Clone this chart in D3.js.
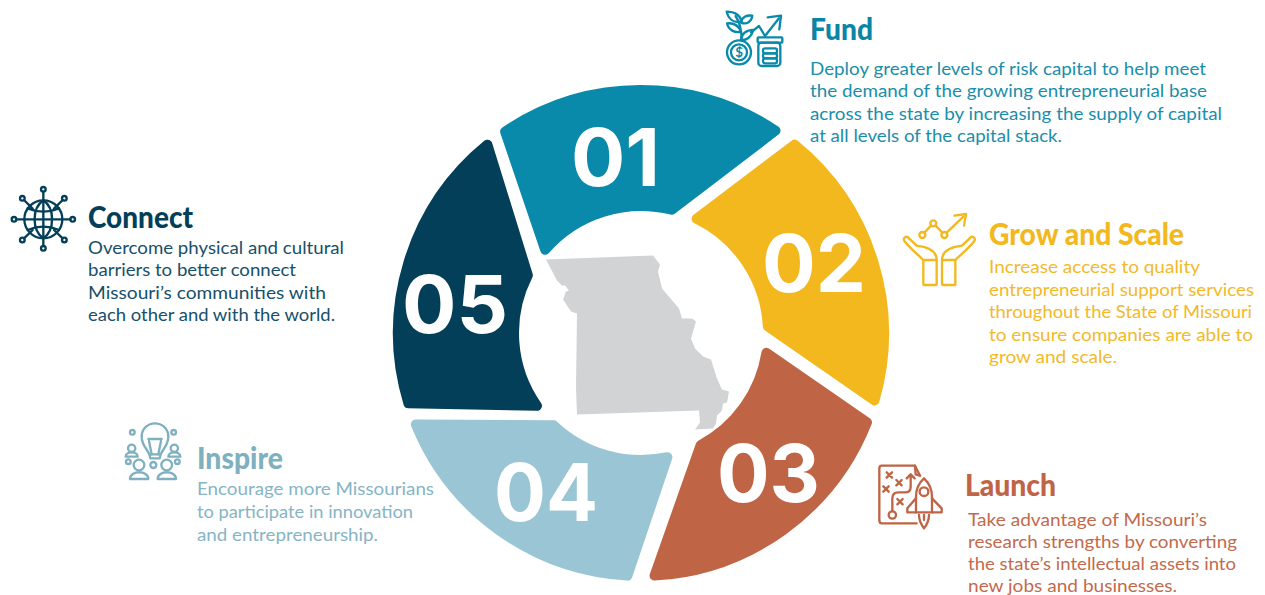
<!DOCTYPE html>
<html>
<head>
<meta charset="utf-8">
<script src="https://cdn.jsdelivr.net/npm/d3@7"></script>
<style>
  html, body { margin: 0; padding: 0; background: #fff; overflow: hidden; }
  text { font-family: Lato, "Open Sans", sans-serif; }
</style>
</head>
<body>
<div id="my_dataviz"></div>
<script>
// five equal parts of the ring
var sliceValues = [1, 1, 1, 1, 1];
var sliceNumbers = ['01', '02', '03', '04', '05'];
var sliceTitles = ['Fund', 'Grow and Scale', 'Launch', 'Inspire', 'Connect'];
var fundLines = ['Deploy greater levels of risk capital to help meet', 'the demand of the growing entrepreneurial base', 'across the state by increasing the supply of capital', 'at all levels of the capital stack.'];
var growLines = ['Increase access to quality', 'entrepreneurial support services', 'throughout the State of Missouri', 'to ensure companies are able to', 'grow and scale.'];
var launchLines = ['Take advantage of Missouri\u2019s', 'research strengths by converting', 'the state\u2019s intellectual assets into', 'new jobs and businesses.'];
var inspireLines = ['Encourage more Missourians', 'to participate in innovation', 'and entrepreneurship.'];
var connectLines = ['Overcome physical and cultural', 'barriers to better connect', 'Missouri\u2019s communities with', 'each other and with the world.'];
var bodyLines = [fundLines, growLines, launchLines, inspireLines, connectLines];
// state outline, in outline units (roughly 0-185 across)
var missouriOutline = [[0,4],[107,0],[114,9],[112,16],[116,33],[133,53],[136,63],[146,63],[150,66],[145,83],[149,93],[157,101],[165,104],[171,123],[176,134],[183,136],[181,147],[177,148],[176,155],[171,160],[170,168],[167,173],[149,174],[154,167],[153,155],[31,159],[30,132],[31,58],[25,56],[17,44],[20,36],[23,35],[19,30],[16,30],[11,25]];

// layout and styling, kept apart from the values above
var width = 1265, height = 595;
var center = [641, 333];
var outerRadius = 248, innerRadius = 122, cornerRadius = 5;
var colors = ['#0a8aaa', '#f2b81e', '#bf6445', '#99c5d5', '#033f58'];
var titleColors = ['#0a86a5', '#f2b81e', '#bf6445', '#7fb0c0', '#033f58'];
var textColors = ['#1a8eab', '#f2b92a', '#c26a4c', '#85b5c5', '#17506a'];
// the sides are not radial: the inner corners are turned against the outer ones (degrees)
var outerStartShift = [2.0, 3.2, 3.6, 3.2, 1.2];
var outerEndShift = [-2.4, -1.9, -3.2, -4.1, -3.2];
var innerStartShift = [-13, -10, -9, -12, -17];
var innerEndShift = [-22, -21, -28, -28.6, -27];
var numberLayout = [[571, 186, 89], [762, 292, 104], [717, 502, 103], [494, 521, 104], [402, 333, 106]];
var titleLayout = [[810, 40, 63], [989, 245, 195], [965, 496, 91], [197, 469, 86], [88, 228, 105]];
var bodyX = [810, 989, 968, 197, 88];
var bodyFirstY = [75, 273, 525.5, 495, 254];
var bodyStep = [22.4, 22.5, 22, 23, 22.4];
var bodyRight = [
  [1206, 1207, 1222, 1062],
  [1200, 1254, 1252, 1253, 1117],
  [1207, 1237, 1236, 1177],
  [434, 413, 378],
  [344, 296, 326, 335]
];

var svg = d3.select('#my_dataviz').append('svg')
  .attr('width', width)
  .attr('height', height);

var rad = function (deg) { return deg * Math.PI / 180; };

var pie = d3.pie().sort(null).startAngle(rad(-36)).endAngle(rad(324));
var arcs = pie(sliceValues);

// one slice of the ring with slanted sides; the thick round stroke gives the soft corners
function slicePath(d, i) {
  var r1 = outerRadius - cornerRadius, r0 = innerRadius + cornerRadius;
  var a0 = d.startAngle + rad(outerStartShift[i]), a1 = d.endAngle + rad(outerEndShift[i]);
  var b0 = d.startAngle + rad(innerStartShift[i]), b1 = d.endAngle + rad(innerEndShift[i]);
  var top = -Math.PI / 2;
  var p = d3.path();
  p.arc(center[0], center[1], r1, a0 + top, a1 + top, false);
  p.arc(center[0], center[1], r0, b1 + top, b0 + top, true);
  p.closePath();
  return p.toString();
}

svg.selectAll('.slice')
  .data(arcs)
  .enter().append('path')
  .attr('class', 'slice')
  .attr('d', slicePath)
  .attr('fill', function (d, i) { return colors[i]; })
  .attr('stroke', function (d, i) { return colors[i]; })
  .attr('stroke-width', cornerRadius * 2)
  .attr('stroke-linejoin', 'round');

// the state in the hole
var mapX = d3.scaleLinear().domain([0, 183]).range([546, 729]);
var mapY = d3.scaleLinear().domain([0, 174]).range([255.5, 429.5]);
svg.append('path')
  .datum(missouriOutline)
  .attr('fill', '#d1d3d4')
  .attr('d', d3.line()
    .x(function (d) { return mapX(d[0]); })
    .y(function (d) { return mapY(d[1]); })
    .curve(d3.curveLinearClosed));

// big numbers
svg.selectAll('.number')
  .data(sliceNumbers)
  .enter().append('text')
  .attr('class', 'number')
  .attr('x', function (d, i) { return numberLayout[i][0]; })
  .attr('y', function (d, i) { return numberLayout[i][1]; })
  .attr('textLength', function (d, i) { return numberLayout[i][2]; })
  .attr('lengthAdjust', 'spacingAndGlyphs')
  .style('font-family', 'Inter, sans-serif')
  .style('font-weight', 700)
  .style('font-size', '80px')
  .attr('fill', '#fff')
  .text(function (d) { return d; });

// headings
svg.selectAll('.title')
  .data(sliceTitles)
  .enter().append('text')
  .attr('class', 'title')
  .attr('x', function (d, i) { return titleLayout[i][0]; })
  .attr('y', function (d, i) { return titleLayout[i][1]; })
  .attr('textLength', function (d, i) { return titleLayout[i][2]; })
  .attr('lengthAdjust', 'spacingAndGlyphs')
  .style('font-weight', 900)
  .style('font-size', '31px')
  .attr('fill', function (d, i) { return titleColors[i]; })
  .text(function (d) { return d; });

// paragraphs
bodyLines.forEach(function (lines, i) {
  svg.selectAll('.body' + i)
    .data(lines)
    .enter().append('text')
    .attr('class', 'body' + i)
    .attr('x', bodyX[i])
    .attr('y', function (d, j) { return bodyFirstY[i] + j * bodyStep[i]; })
    .attr('textLength', function (d, j) { return bodyRight[i][j] - bodyX[i]; })
    .attr('lengthAdjust', 'spacingAndGlyphs')
    .style('font-size', '17.5px')
    .attr('fill', textColors[i])
    .text(function (d) { return d; });
});

// line icons, drawn in 3x units
function icon(x, y, color) {
  return svg.append('g')
    .attr('transform', 'translate(' + x + ',' + y + ') scale(' + (1 / 3) + ')')
    .attr('fill', 'none')
    .attr('stroke', color)
    .attr('stroke-width', 7)
    .attr('stroke-linejoin', 'round')
    .attr('stroke-linecap', 'round');
}
function drawPaths(g, list) {
  list.forEach(function (d) { g.append('path').attr('d', d); });
}
function drawCircles(g, list) {
  list.forEach(function (c) {
    g.append('circle').attr('cx', c[0]).attr('cy', c[1]).attr('r', c[2]);
  });
}
function drawRects(g, list) {
  list.forEach(function (r) {
    g.append('rect').attr('x', r[0]).attr('y', r[1]).attr('width', r[2]).attr('height', r[3]).attr('rx', r[4]);
  });
}

// Fund
var fundIcon = icon(715, 0, colors[0]);
drawCircles(fundIcon, [[72, 157, 36], [72, 157, 24]]);
drawRects(fundIcon, [[130, 128, 66, 70, 10], [128, 112, 74, 16, 3], [144, 145, 42, 15, 6], [144, 160, 42, 15, 6], [144, 175, 42, 15, 6]]);
drawPaths(fundIcon, [
  'M108,97L132,78L150,108L192,55', 'M158,52L198,47L193,88',
  'M80,122C80,100 76,70 62,48',
  'M35,35C60,35 75,45 80,65C55,70 40,55 35,35Z',
  'M78,68C80,50 95,45 112,47C110,65 95,75 78,68Z',
  'M36,70C55,68 70,75 78,95C60,100 40,90 36,70Z',
  'M78,120C80,100 95,90 115,90C110,110 95,122 78,120Z'
]);
fundIcon.append('text').attr('x', 72).attr('y', 171).attr('text-anchor', 'middle')
  .style('font-size', '40px').style('font-weight', 700)
  .attr('fill', colors[0]).attr('stroke', 'none').text('$');

// Grow and Scale
var growIcon = icon(895, 205, colors[1]);
drawPaths(growIcon, [
  'M88,83L108,62', 'M122,62L142,83', 'M155,83L205,35', 'M178,32L213,27L207,62',
  'M85,165C70,150 45,130 28,108C22,98 35,90 42,100L65,122C90,125 125,135 125,165',
  'M181,165C196,150 221,130 238,108C244,98 231,90 224,100L201,122C176,125 141,135 141,165'
]);
drawCircles(growIcon, [[82, 90, 9], [115, 55, 9], [148, 90, 9]]);
drawRects(growIcon, [[85, 165, 40, 75, 2], [141, 165, 40, 75, 2]]);

// Launch
var launchIcon = icon(870, 455, colors[2]);
drawPaths(launchIcon, [
  'M150,62L135,32H35Q28,32 28,40V195Q28,205 35,205H140',
  'M135,32L137,58L150,62',
  'M50,52L66,68M66,52L50,68', 'M79,75L95,91M95,75L79,91', 'M40,94L56,110M56,94L40,110', 'M82,132L98,148M98,132L82,148',
  'M67,168V130Q67,112 85,112H105Q122,112 122,95V60', 'M110,70L122,58L134,70',
  'M162,70C145,85 138,105 138,125V172H186V125C186,105 178,85 162,70Z',
  'M138,130L112,160V172H138', 'M186,130L215,160V172H186',
  'M147,180C147,200 155,210 162,220C170,210 177,200 177,180', 'M162,180V195'
]);
drawCircles(launchIcon, [[67, 180, 11], [162, 110, 13]]);

// Inspire
var inspireIcon = icon(115, 415, titleColors[3]);
drawPaths(inspireIcon, [
  'M103,118C95,100 80,90 80,65C80,40 100,25 120,25C140,25 160,40 160,65C160,90 145,100 137,118Z',
  'M103,118L106,130H134L137,118',
  'M110,118L102,78M130,118L138,78M100,72H140',
  'M32,125C32,108 68,108 68,125Z', 'M160,125C160,108 196,108 196,125Z',
  'M45,192C45,165 100,165 100,192Z', 'M128,192C128,165 183,165 183,192Z'
]);
drawCircles(inspireIcon, [[52, 52, 7], [176, 52, 7], [40, 140, 7], [187, 140, 7], [115, 150, 9], [50, 100, 11], [178, 100, 11], [72, 150, 16], [155, 150, 16]]);

// Connect
var connectIcon = icon(0, 180, colors[4]);
drawPaths(connectIcon, [
  'M49,118H211', 'M130,35V198',
  'M130,61C95,85 95,150 130,175C165,150 165,85 130,61Z',
  'M83,85Q130,105 177,85', 'M83,150Q130,130 177,150',
  'M72,60L98,86', 'M188,60L162,86', 'M72,175L98,150', 'M188,175L162,150'
]);
drawCircles(connectIcon, [[130, 118, 57], [130, 28, 7], [193, 55, 7], [218, 118, 7], [193, 180, 7], [130, 205, 7], [67, 180, 7], [42, 118, 7], [67, 55, 7]]);
</script>
</body>
</html>
